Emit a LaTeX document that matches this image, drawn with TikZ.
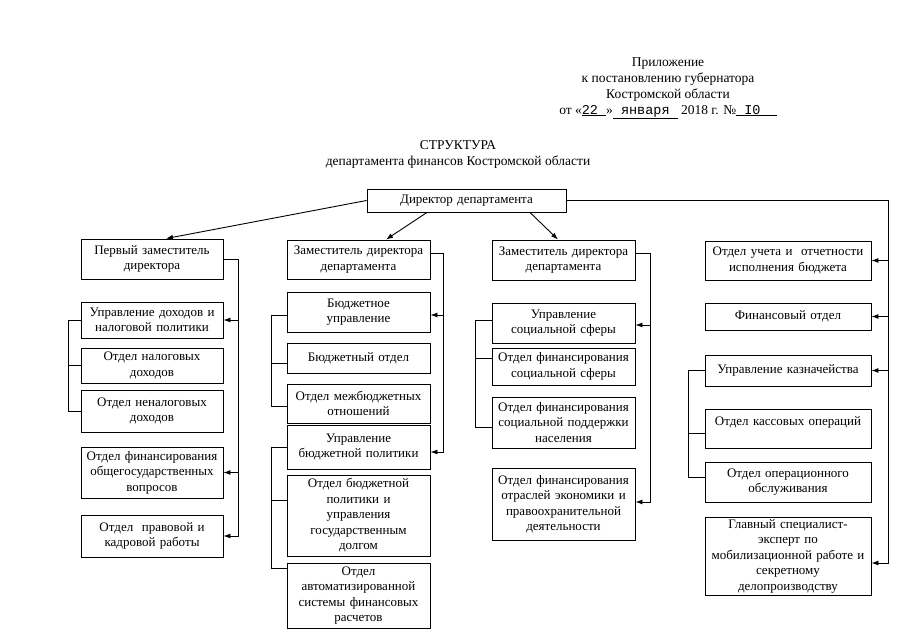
\documentclass[tikz,border=0pt]{standalone}
\usepackage{fontspec}
\setmainfont{Liberation Serif}
\newfontfamily\hwfont{Liberation Mono}
\usetikzlibrary{arrows.meta,calc}
\tikzset{
  box/.style={draw,line width=0.9pt,inner xsep=1pt,inner ysep=0pt,align=center,
    font=\fontsize{13}{15.5}\selectfont},
  txt/.style={align=center,inner sep=0pt,font=\fontsize{13.5}{16}\selectfont},
  ln/.style={line width=0.9pt},
  arr/.style={line width=0.9pt,-{Latex[length=7pt,width=5pt]}}
}
\newcommand\bx[6]{%
  \pgfmathsetmacro\bxw{#4-#2}%
  \pgfmathsetmacro\bxh{#5-#3}%
  \pgfmathsetmacro\bxt{#4-#2-2}%
  \node[box,minimum width=\bxw pt,minimum height=\bxh pt,text width=\bxt pt] (#1) at ({(#2+#4)/2},{(#3+#5)/2}) {#6};}
\begin{document}
\begin{tikzpicture}[x=1pt,y=-1pt]
\fill[white] (0,0) rectangle (898,640);
\useasboundingbox (0,0) rectangle (898,640);
% header
\node[txt] (hdr) at (668,88) {Приложение\\к постановлению губернатора\\Костромской области\\от «\underline{\hwfont 22\ }»\underline{\hwfont\ января\ } 2018 г. №\underline{\hwfont\ I0\ \ }};
\node[txt] (ttl) at (458,154) {СТРУКТУРА\\департамента финансов Костромской области};
% director
\bx{dir}{367}{189}{566}{212}{Директор департамента}
% column 1
\bx{A}{81}{239}{223}{279}{Первый заместитель\\директора}
\bx{B}{81}{302}{223}{338}{Управление доходов и\\налоговой политики}
\bx{C}{81}{348}{223}{383}{Отдел налоговых\\доходов}
\bx{D}{81}{390}{223}{432}{Отдел неналоговых\\доходов}
\bx{E}{81}{447}{223}{498}{Отдел финансирования\\общегосударственных\\вопросов}
\bx{F}{81}{515}{223}{557}{Отдел~ правовой и\\кадровой работы}
% column 2
\bx{G}{287}{240}{430}{279}{Заместитель директора\\департамента}
\bx{H}{287}{292}{430}{332}{Бюджетное\\управление}
\bx{I}{287}{343}{430}{373}{Бюджетный отдел}
\bx{J}{287}{384}{430}{423}{Отдел межбюджетных\\отношений}
\bx{K}{287}{425}{430}{469}{Управление\\бюджетной политики}
\bx{L}{287}{475}{430}{556}{Отдел бюджетной\\политики и\\управления\\государственным\\долгом}
\bx{M}{287}{563}{430}{628}{Отдел\\автоматизированной\\системы финансовых\\расчетов}
% column 3
\bx{N}{492}{240}{635}{280}{Заместитель директора\\департамента}
\bx{O}{492}{303}{635}{343}{Управление\\социальной сферы}
\bx{P}{492}{348}{635}{385}{Отдел финансирования\\социальной сферы}
\bx{Q}{492}{397}{635}{448}{Отдел финансирования\\социальной поддержки\\населения}
\bx{R}{492}{468}{635}{540}{Отдел финансирования\\отраслей экономики и\\правоохранительной\\деятельности}
% column 4
\bx{Z1}{705}{241}{871}{280}{Отдел учета и~ отчетности\\исполнения бюджета}
\bx{Z2}{705}{303}{871}{330}{Финансовый отдел}
\bx{Z3}{705}{355}{871}{386}{Управление казначейства}
\bx{Z4}{705}{409}{871}{448}{Отдел кассовых операций\\\mbox{}}
\bx{Z5}{705}{462}{871}{502}{Отдел операционного\\обслуживания}
\bx{Z6}{705}{517}{871}{595}{Главный специалист-\\эксперт по\\мобилизационной работе и\\секретному\\делопроизводству}
% bus coordinates
\coordinate (rb1) at (238,0);
\coordinate (lb1) at (68,0);
\coordinate (rb2) at (443,0);
\coordinate (lb2) at (271,0);
\coordinate (rb3) at (650,0);
\coordinate (lb3) at (475,0);
\coordinate (rb) at (888,0);
\coordinate (lb4) at (688,0);
% director connectors
\draw[arr] (dir.west) -- ([xshift=14pt]A.north);
\draw[arr] ([xshift=-39.5pt]dir.south) -- ([xshift=27.5pt]G.north);
\draw[arr] ([xshift=63.5pt]dir.south) -- ([xshift=-5.5pt]N.north);
\draw[arr] (dir.east) -- (dir.east -| rb) -- ($(Z6.east -| rb)+(0,7)$) -- ($(Z6.east)+(0,7)$);
\draw[arr] (Z1.east -| rb) -- (Z1.east);
\draw[arr] (Z2.east -| rb) -- (Z2.east);
\draw[arr] (Z3.east -| rb) -- (Z3.east);
% column 1
\draw[arr] (A.east) -- (A.east -| rb1) -- (F.east -| rb1) -- (F.east);
\draw[arr] (B.east -| rb1) -- (B.east);
\draw[arr] (E.east -| rb1) -- (E.east);
\draw[ln] (B.west) -- (B.west -| lb1) -- (D.west -| lb1) -- (D.west);
\draw[ln] (C.west -| lb1) -- (C.west);
% column 2
\draw[arr] ($(G.east)+(0,-6)$) -- ($(G.east -| rb2)+(0,-6)$) -- ($(K.east -| rb2)+(0,5)$) -- ($(K.east)+(0,5)$);
\draw[arr] ($(H.east -| rb2)+(0,3)$) -- ($(H.east)+(0,3)$);
\draw[ln] ($(H.west)+(0,3)$) -- ($(H.west -| lb2)+(0,3)$) -- ($(J.west -| lb2)+(0,2.5)$) -- ($(J.west)+(0,2.5)$);
\draw[ln] ($(I.west -| lb2)+(0,5)$) -- ($(I.west)+(0,5)$);
\draw[ln] (K.west) -- (K.west -| lb2) -- ($(M.north west -| lb2)+(0,6)$) -- ($(M.north west)+(0,6)$);
\draw[ln] ($(L.west -| lb2)+(0,-15)$) -- ($(L.west)+(0,-15)$);
% column 3
\draw[arr] ($(N.east)+(0,-7)$) -- ($(N.east -| rb3)+(0,-7)$) -- ($(R.east -| rb3)+(0,-2)$) -- ($(R.east)+(0,-2)$);
\draw[arr] ($(O.east -| rb3)+(0,2)$) -- ($(O.east)+(0,2)$);
\draw[ln] ($(O.west)+(0,-3)$) -- ($(O.west -| lb3)+(0,-3)$) -- ($(Q.west -| lb3)+(0,5)$) -- ($(Q.west)+(0,5)$);
\draw[ln] ($(P.west -| lb3)+(0,-8)$) -- ($(P.west)+(0,-8)$);
% column 4 bracket
\draw[ln] (Z3.west) -- (Z3.west -| lb4) -- ($(Z5.west -| lb4)+(0,-5)$) -- ($(Z5.west)+(0,-5)$);
\draw[ln] ($(Z4.west -| lb4)+(0,5)$) -- ($(Z4.west)+(0,5)$);
\end{tikzpicture}
\end{document}
